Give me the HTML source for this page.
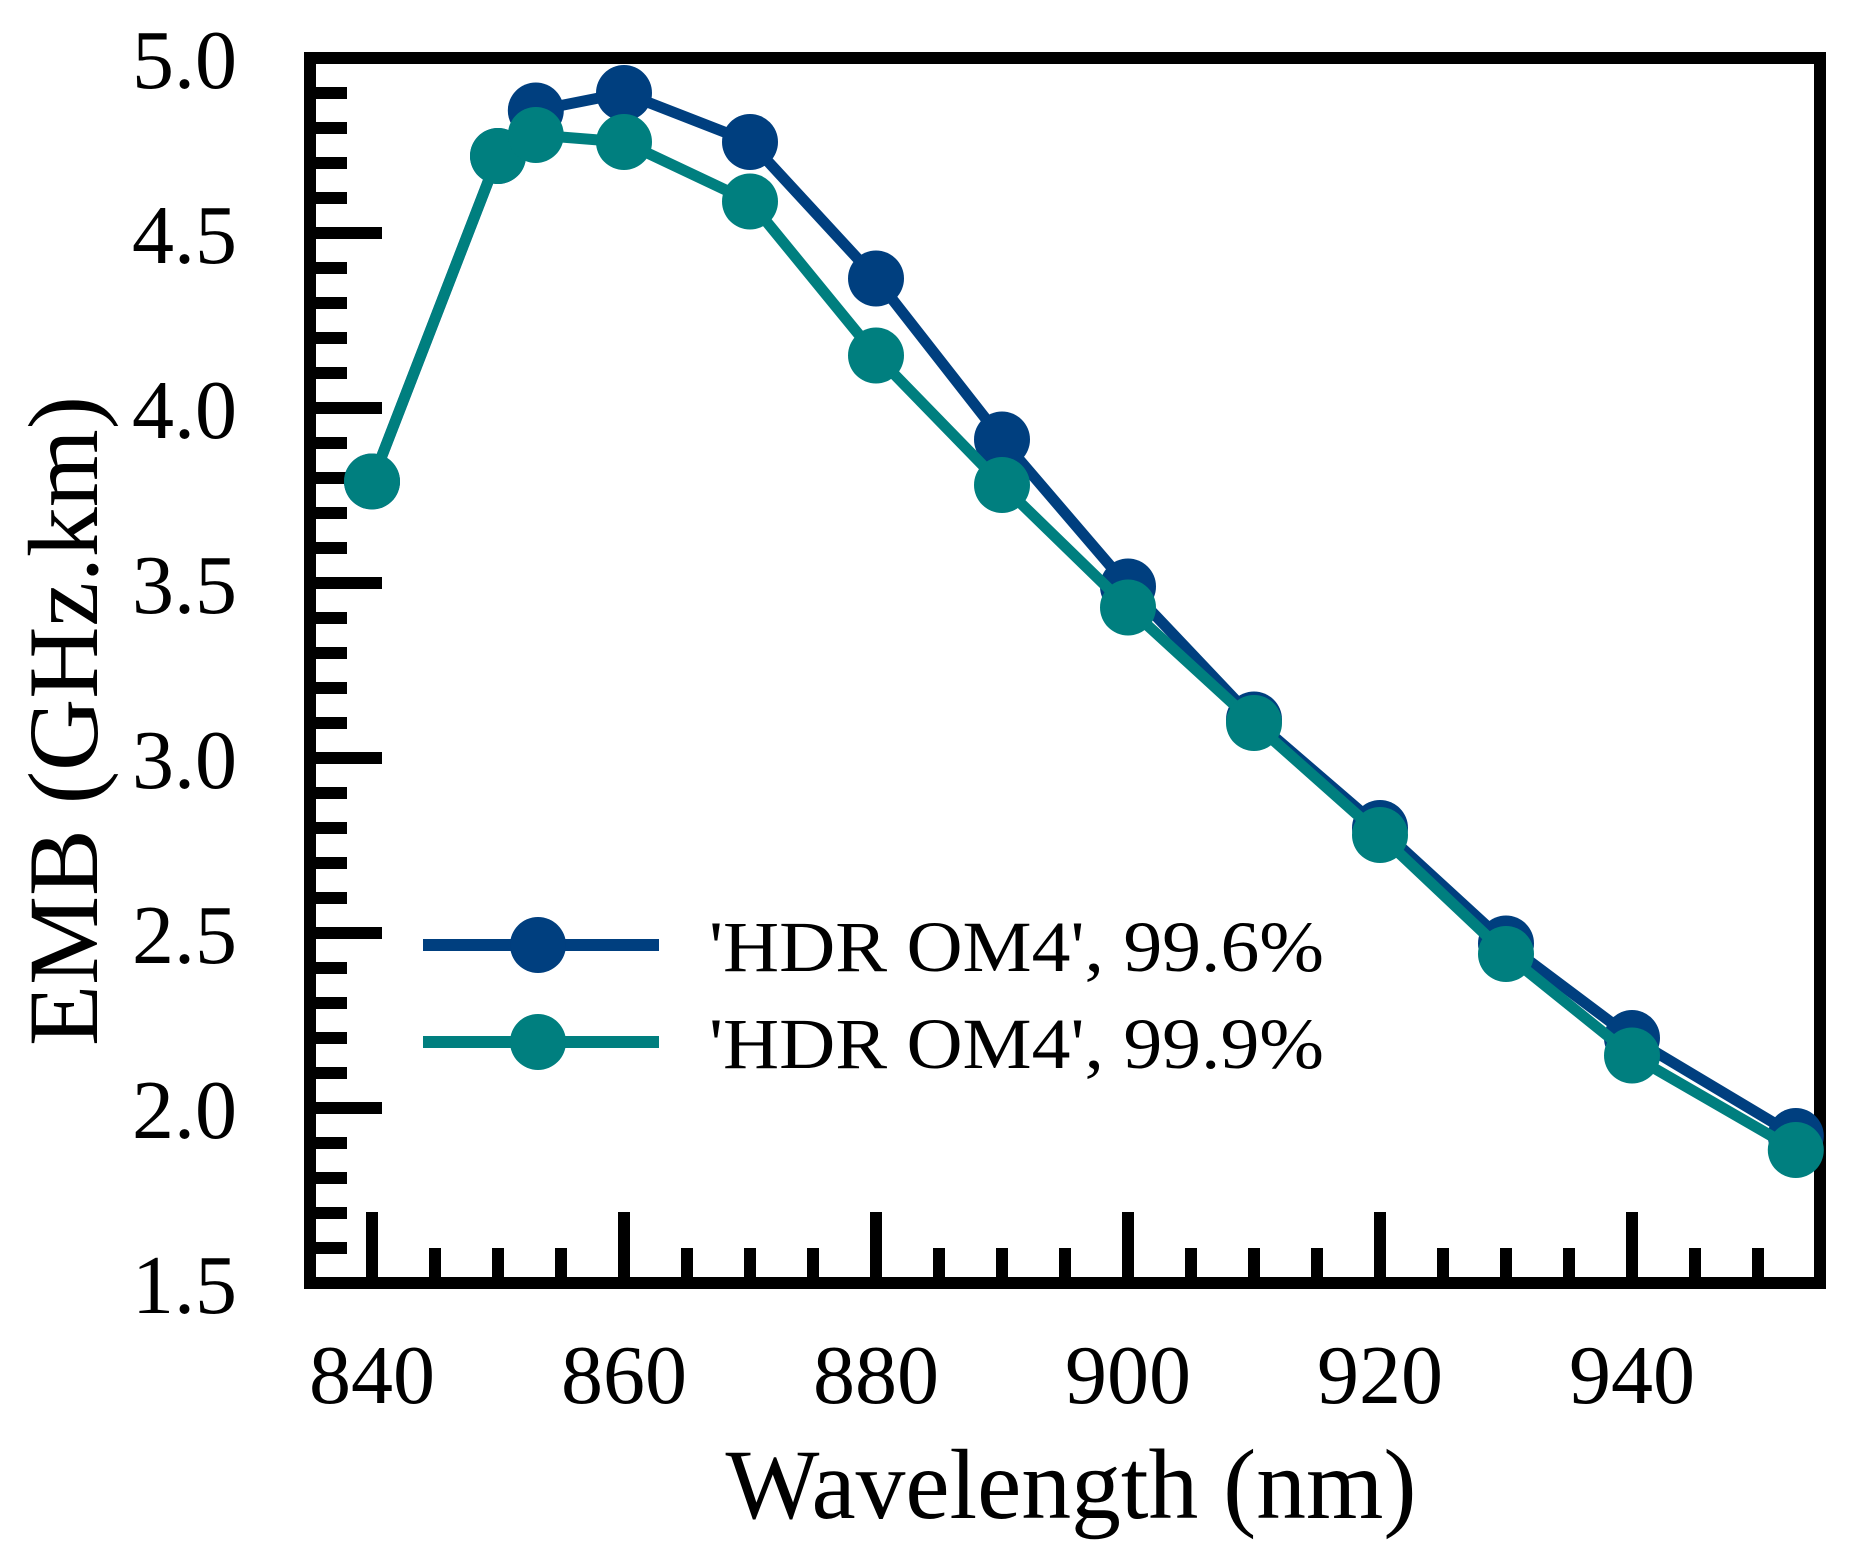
<!DOCTYPE html>
<html><head><meta charset="utf-8"><style>
html,body{margin:0;padding:0;background:#fff;}
svg{display:block;font-family:"Liberation Serif",serif;}
</style></head><body>
<svg width="1859" height="1558" viewBox="0 0 1859 1558">
<g id="axes"></g>
<g id="series"></g>
<g id="legend"></g>
<text x="1071" y="1518" font-size="100" text-anchor="middle" textLength="691" lengthAdjust="spacingAndGlyphs">Wavelength (nm)</text>
<text transform="translate(97,721) rotate(-90)" font-size="100" text-anchor="middle" textLength="650" lengthAdjust="spacingAndGlyphs">EMB (GHz.km)</text>
</svg>
<script>
const wavelengths = [840, 850, 853, 860, 870, 880, 890, 900, 910, 920, 930, 940, 953];
const seriesNames = ["'HDR OM4', 99.6%", "'HDR OM4', 99.9%"];
const emb996 = [3.79, 4.72, 4.85, 4.90, 4.76, 4.37, 3.91, 3.49, 3.11, 2.80, 2.47, 2.20, 1.92];
const emb999 = [3.79, 4.72, 4.78, 4.76, 4.59, 4.15, 3.78, 3.43, 3.10, 2.78, 2.44, 2.15, 1.88];
const xTickLabels = [840, 860, 880, 900, 920, 940];
const yTickLabels = ["1.5", "2.0", "2.5", "3.0", "3.5", "4.0", "4.5", "5.0"];
const colors = ["#003f7f", "#007f7f"];

const NS = "http://www.w3.org/2000/svg";
const xS = v => 372 + (v - 840) * 12.6;
const yS = v => 1283 - (v - 1.5) * 350;
function mk(tag, attrs, parent) {
  const e = document.createElementNS(NS, tag);
  for (const k in attrs) e.setAttribute(k, attrs[k]);
  parent.appendChild(e);
  return e;
}
const axes = document.getElementById('axes');
const series = document.getElementById('series');
const legend = document.getElementById('legend');

// y ticks
for (let i = 0; i <= 35; i++) {
  const v = 1.5 + i * 0.1;
  const y = yS(v);
  const major = i % 5 === 0;
  const t = mk('line', {x1: 310, x2: major ? 382 : 347, y1: y, y2: y, stroke: '#000', 'stroke-width': 12}, axes);
  
  
}
yTickLabels.forEach(l => {
  const t = mk('text', {x: 237, y: yS(parseFloat(l)) + 30, 'font-size': 84, 'text-anchor': 'end'}, axes);
  t.textContent = l;
  
  
});
// x ticks
for (let w = 840; w <= 950; w += 5) {
  const x = xS(w);
  const major = (w - 840) % 20 === 0;
  const t = mk('line', {x1: x, x2: x, y1: major ? 1212 : 1248, y2: 1283, stroke: '#000', 'stroke-width': 12}, axes);
  
  
}
xTickLabels.forEach(l => {
  const t = mk('text', {x: xS(l), y: 1403, 'font-size': 84, 'text-anchor': 'middle'}, axes);
  t.textContent = l;
  
  
});
const frame = mk('rect', {x: 310, y: 58, width: 1510, height: 1225, fill: 'none', stroke: '#000', 'stroke-width': 12}, axes);



[emb996, emb999].forEach((vals, si) => {
  const pts = vals.map((v, i) => xS(wavelengths[i]) + ',' + yS(v)).join(' ');
  const pl = mk('polyline', {points: pts, fill: 'none', stroke: colors[si], 'stroke-width': 11, 'stroke-linejoin': 'round'}, series);
  
  
  vals.forEach((v, i) => {
    const c = mk('circle', {cx: xS(wavelengths[i]), cy: yS(v), r: 28, fill: colors[si]}, series);
    
    
  });
});

seriesNames.forEach((n, i) => {
  const y = 945 + i * 97;
  const g = mk('g', {}, legend);
  
  
  mk('line', {x1: 423, x2: 659, y1: y, y2: y, stroke: colors[i], 'stroke-width': 12}, g);
  mk('circle', {cx: 538, cy: y, r: 28, fill: colors[i]}, g);
  const t = mk('text', {x: 709, y: y + 26, 'font-size': 72, textLength: 615, lengthAdjust: 'spacingAndGlyphs'}, g);
  t.textContent = n;
  
  
});
</script>
</body></html>
